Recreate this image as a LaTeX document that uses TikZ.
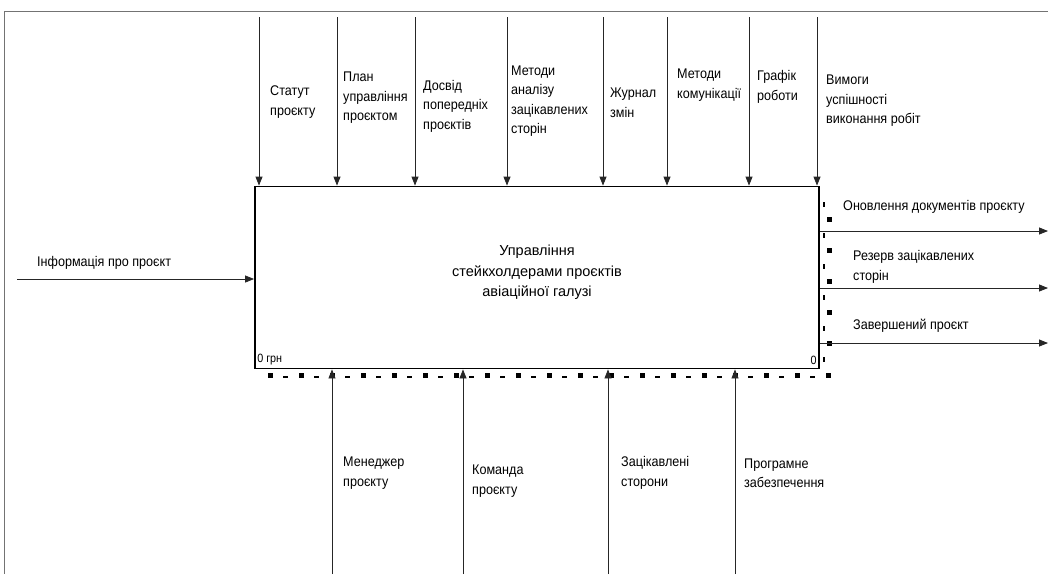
\documentclass[tikz,border=0pt]{standalone}
\usepackage{fontspec}
\setmainfont{Liberation Sans}
\newfontfamily\labfont[FakeStretch=0.9]{Liberation Sans}
\usetikzlibrary{arrows.meta}
\tikzset{
  lbl/.style={anchor=west, inner sep=0pt, align=left, font=\labfont\fontsize{14}{19.5}\selectfont},
  arr/.style={-{Triangle[length=9pt,width=7pt]}, line width=0.8pt, black!85},
  frameline/.style={line width=0.8pt, black!55},
  shadowsq/.style={fill=black},
  mainbox/.style={draw, line width=1.8pt, minimum width=564pt, minimum height=182pt, inner sep=0pt},
  titletext/.style={inner sep=0pt, align=center, font=\fontsize{14.5}{20.5}\selectfont}
}
\begin{document}
\begin{tikzpicture}[x=1pt,y=-1pt]
\useasboundingbox (0,0) rectangle (1048,574);
% sheet border (open at right and bottom)
\draw[frameline] (1048,11) -- (4,11) -- (4,574);

% activity box
\node[mainbox] (box) at (537,277.5) {};
\node[titletext] (title) at ([yshift=5pt]box.center) {Управління\\стейкхолдерами проєктів\\авіаційної галузі};
\node[anchor=south west, inner sep=0pt, font=\labfont\fontsize{12}{12}\selectfont] (cost) at ([xshift=3pt,yshift=4pt]box.south west) {0 грн};
\node[anchor=south east, inner sep=0pt, font=\labfont\fontsize{12}{12}\selectfont] (num) at ([xshift=-3pt,yshift=5pt]box.south east) {0};

% dashed shadow along bottom and right edges
\foreach \k in {0,...,18}{
  \fill[shadowsq] ({270+31*\k-2.5},372.5) rectangle ++(5,5);
}
\foreach \k in {0,...,17}{
  \fill[shadowsq] ({283+31*\k},375.5) rectangle ++(5,2);
}
\foreach \k in {0,...,4}{
  \fill[shadowsq] (826.5,{219+31*\k-2.5}) rectangle ++(5,5);
}
\foreach \k in {0,...,5}{
  \fill[shadowsq] (822.5,{202+31*\k}) rectangle ++(2,5);
}

% controls (top)
\foreach \n/\x in {1/259,2/337,3/415,4/507,5/603,6/667,7/749,8/817}{
  \coordinate (t\n) at (\x,17);
  \draw[arr] (t\n) -- (t\n |- box.north);
}
\node[lbl] (c1) at (270,102) {Статут\\проєкту};
\node[lbl] (c2) at (343,98) {План\\управління\\проєктом};
\node[lbl] (c3) at (423,106) {Досвід\\попередніх\\проєктів};
\node[lbl] (c4) at (511,101) {Методи\\аналізу\\зацікавлених\\сторін};
\node[lbl] (c5) at (610,102.5) {Журнал\\змін};
\node[lbl] (c6) at (677,85) {Методи\\комунікації};
\node[lbl] (c7) at (757,87) {Графік\\роботи};
\node[lbl] (c8) at (826,101) {Вимоги\\успішності\\виконання робіт};

% input
\coordinate (in) at (17,279);
\draw[arr] (in) -- (in -| box.west);
\node[lbl] (i1) at (37,263) {Інформація про проєкт};

% outputs
\foreach \n/\y in {1/231,2/288,3/343}{
  \coordinate (o\n) at (1048,\y);
  \draw[arr] (o\n -| box.east) -- (o\n);
}
\node[lbl] (p1) at (843,207) {Оновлення документів проєкту};
\node[lbl] (p2) at (853,267) {Резерв зацікавлених\\сторін};
\node[lbl] (p3) at (853,326) {Завершений проєкт};

% mechanisms (bottom)
\foreach \n/\x in {1/332,2/463,3/608,4/735}{
  \coordinate (m\n) at (\x,574);
  \draw[arr] (m\n) -- (m\n |- box.south);
}
\node[lbl] (b1) at (343,473) {Менеджер\\проєкту};
\node[lbl] (b2) at (472,481) {Команда\\проєкту};
\node[lbl] (b3) at (621,473) {Зацікавлені\\сторони};
\node[lbl] (b4) at (744,473) {Програмне\\забезпечення};
\end{tikzpicture}
\end{document}
